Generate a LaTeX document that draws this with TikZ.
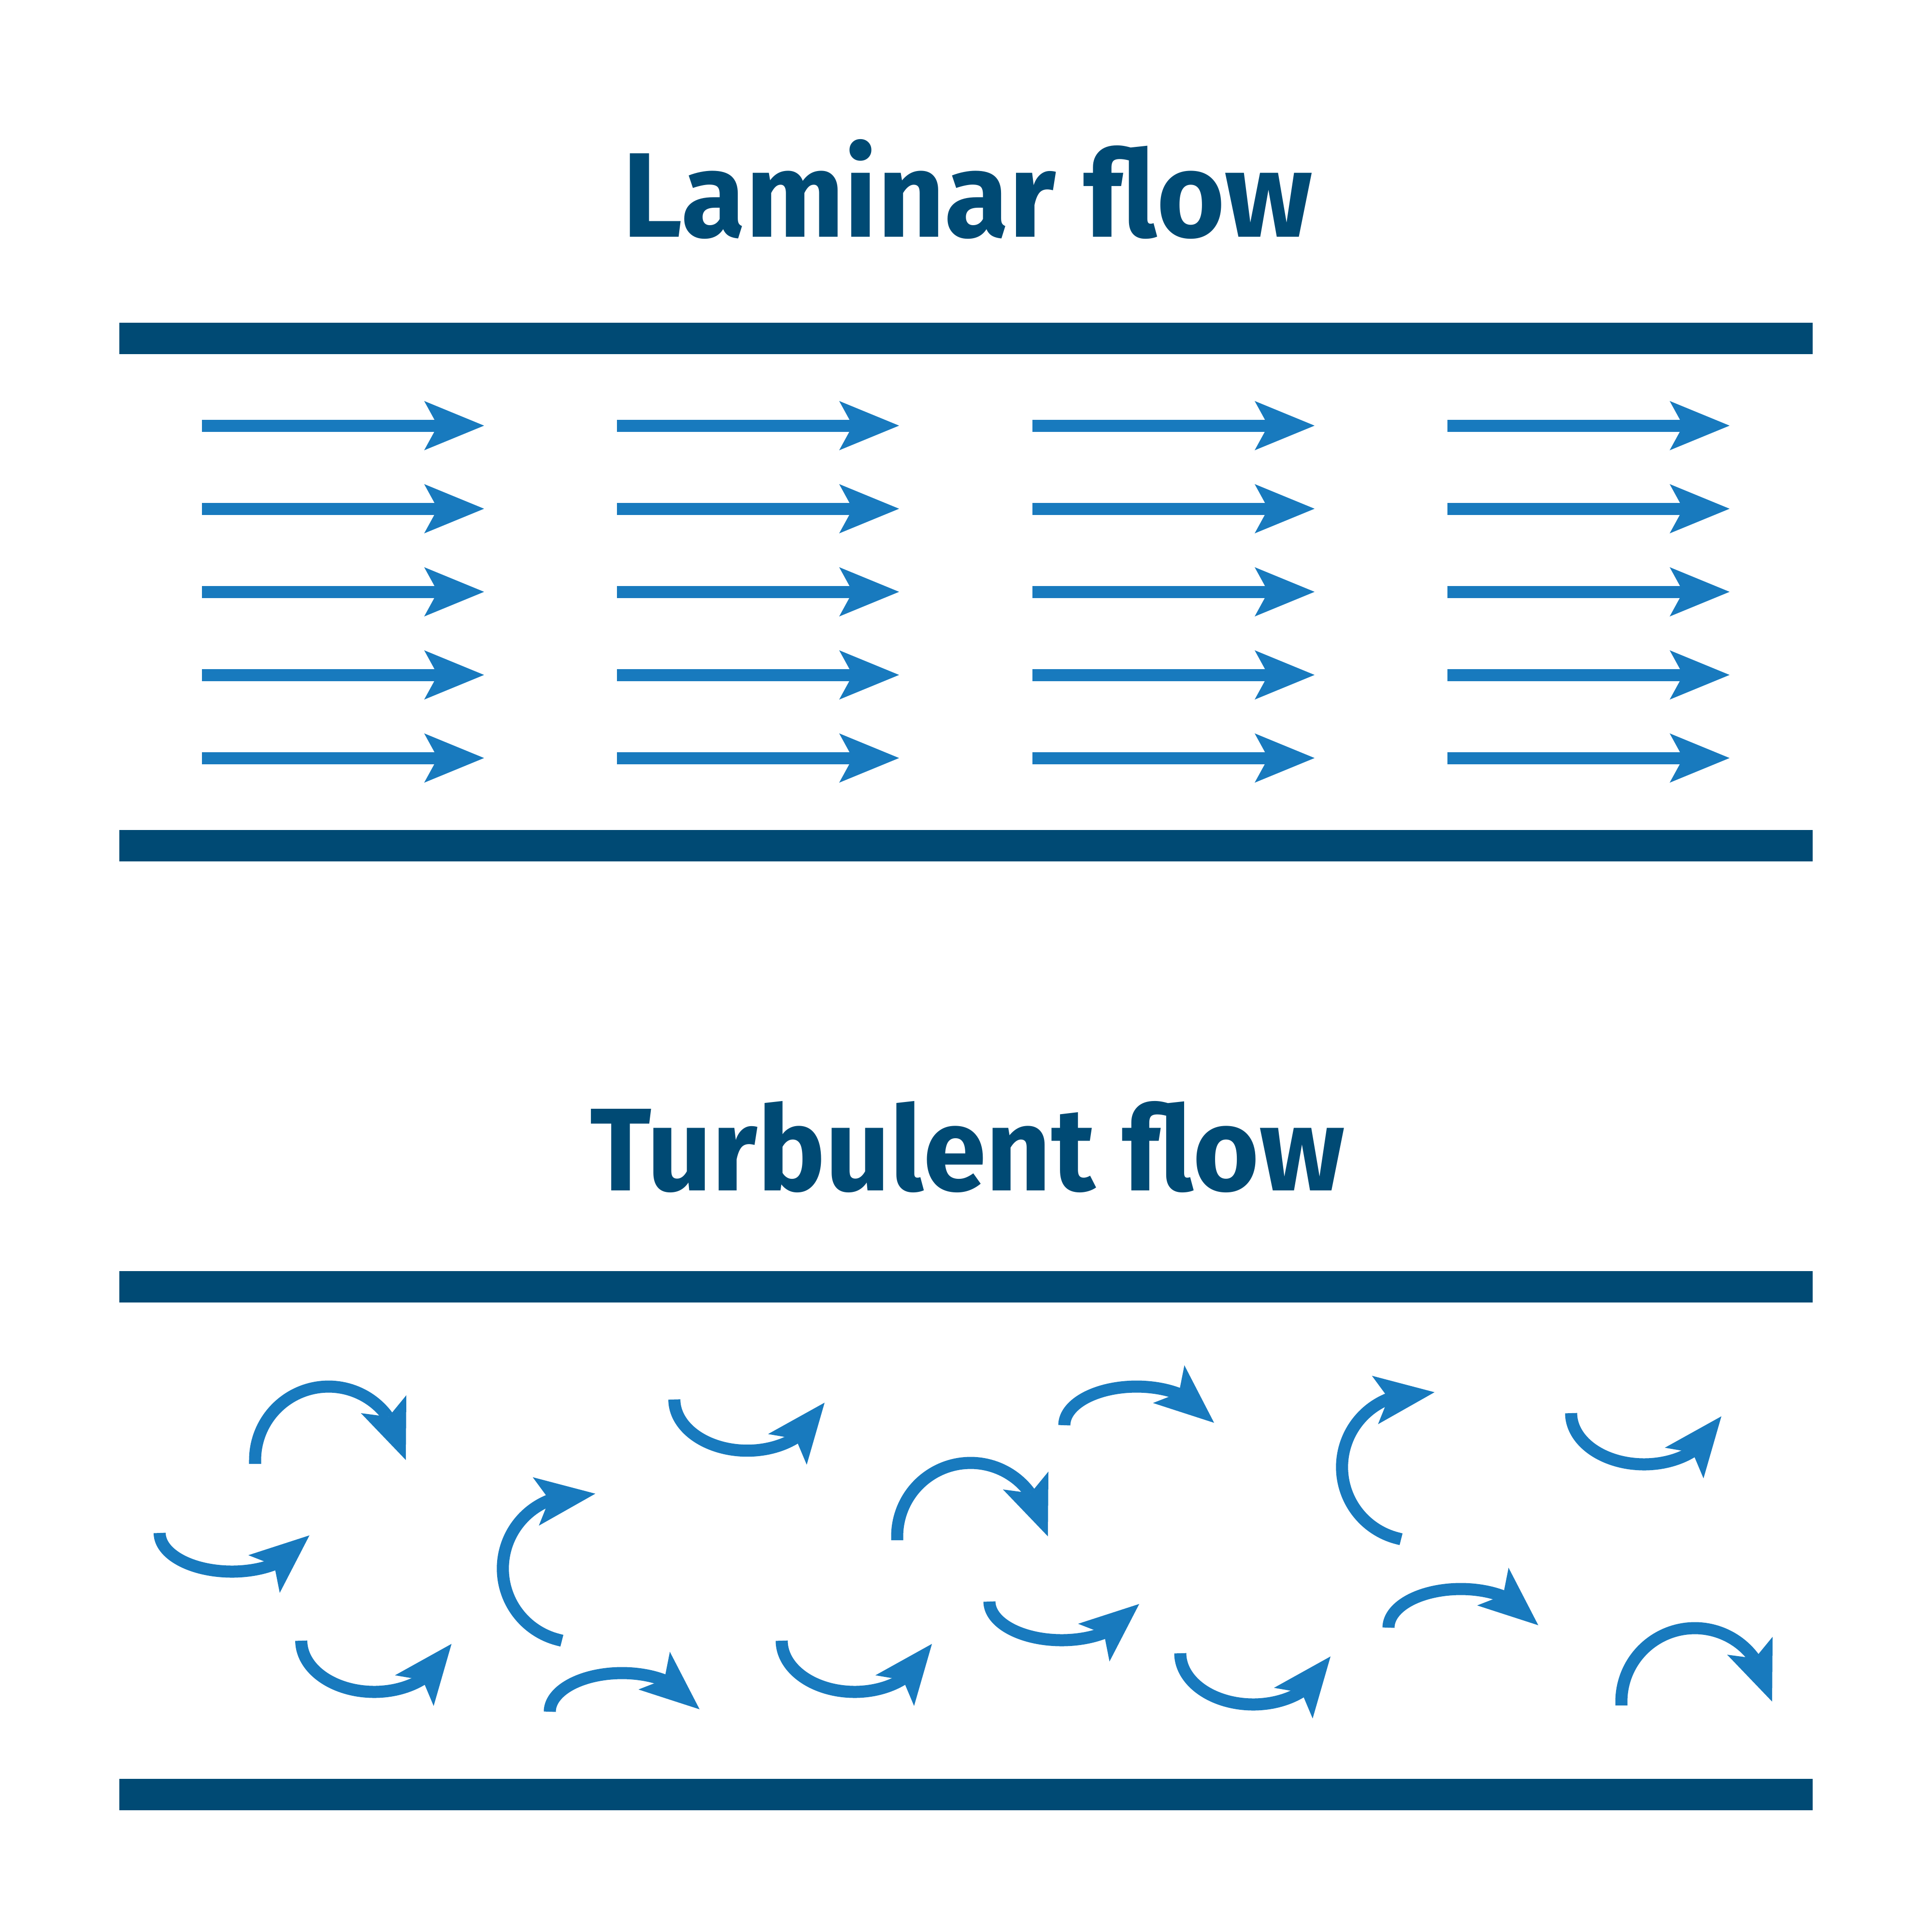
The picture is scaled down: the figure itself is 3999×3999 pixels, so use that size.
\documentclass[tikz,border=0pt]{standalone}
\usepackage{fontspec}
\usepackage{graphicx}
\newfontfamily\titlefont{Fira Sans}
\definecolor{pipeblue}{RGB}{0,74,116}
\definecolor{flowblue}{RGB}{24,122,190}
\tikzset{
  pipe/.style={fill=pipeblue},
  shaft/.style={draw=flowblue, line width=0.25cm},
  head/.style={fill=flowblue},
  title/.style={text=pipeblue, anchor=base west, inner sep=0pt, font=\titlefont\bfseries},
  % circular swirl, starts at bottom-left going clockwise over the top
  swirlA/.pic={
    \draw[shaft] (0,0) -- (0,-8) -- plot[domain=180:324.3, samples=60] ({152+152*cos(\x)}, {-8+152*sin(\x)});
    \fill[head] (312,-8) -- (313,-142) -- (276.4,-97.4) -- (219,-105) -- cycle;
  },
  % shallow lower half-ellipse
  swirlB/.pic={
    \draw[shaft] plot[domain=180:54.1, samples=60] ({149.5+149.5*cos(\x)}, {80*sin(\x)});
    \fill[head] (310,5) -- (183.5,46) -- (237.2,66.9) -- (248.5,124) -- cycle;
  },
  % deeper lower half-ellipse
  swirlE/.pic={
    \draw[shaft] plot[domain=180:48.3, samples=60] ({151+151*cos(\x)}, {106*sin(\x)});
    \fill[head] (311,6.6) -- (194,71.6) -- (251.4,81.4) -- (274,135) -- cycle;
  }
}
\begin{document}
\begin{tikzpicture}[x=0.01cm, y=-0.01cm]
  \useasboundingbox (0,0) rectangle (3999,3999);
  \fill[white] (0,0) rectangle (3999,3999);

  % titles
  \node[title] (lam) at (1288,490) {\resizebox{14.27cm}{2.02cm}{Laminar flow}};
  \node[title] (turb) at (1221,2464) {\resizebox{15.60cm}{1.85cm}{Turbulent flow}};

  % pipe walls
  \fill[pipe] (247,668) rectangle (3752,733);
  \fill[pipe] (247,1718) rectangle (3752,1783);
  \fill[pipe] (247,2631) rectangle (3752,2696);
  \fill[pipe] (247,3682) rectangle (3752,3747);

  % laminar arrows
  \foreach \cx in {418,1277,2137,2996}{
    \foreach \ry in {881,1053,1225,1397,1569}{
      \fill[head] (\cx,\ry-12.5) rectangle (\cx+492,\ry+12.5);
      \fill[head] (\cx+584,\ry) -- (\cx+460,\ry-51) -- (\cx+488,\ry) -- (\cx+460,\ry+51) -- cycle;
    }
  }

  % turbulent swirls
  \pic at (528,3030) {swirlA};
  \pic at (1857,3188) {swirlA};
  \pic at (3356,3530) {swirlA};
  \pic[rotate=75.7] at (1163,3396) {swirlA};
  \pic[rotate=75.7] at (2900,3186) {swirlA};

  \pic at (330.5,3173) {swirlB};
  \pic at (2048,3315) {swirlB};
  \pic[yscale=-1] at (1138,3543) {swirlB};
  \pic[yscale=-1] at (2203,2950) {swirlB};
  \pic[yscale=-1] at (2874,3369) {swirlB};

  \pic at (1395.8,2896.7) {swirlE};
  \pic at (623.6,3396) {swirlE};
  \pic at (1618,3396) {swirlE};
  \pic at (2443,3422) {swirlE};
  \pic at (3252,2925) {swirlE};
\end{tikzpicture}
\end{document}
